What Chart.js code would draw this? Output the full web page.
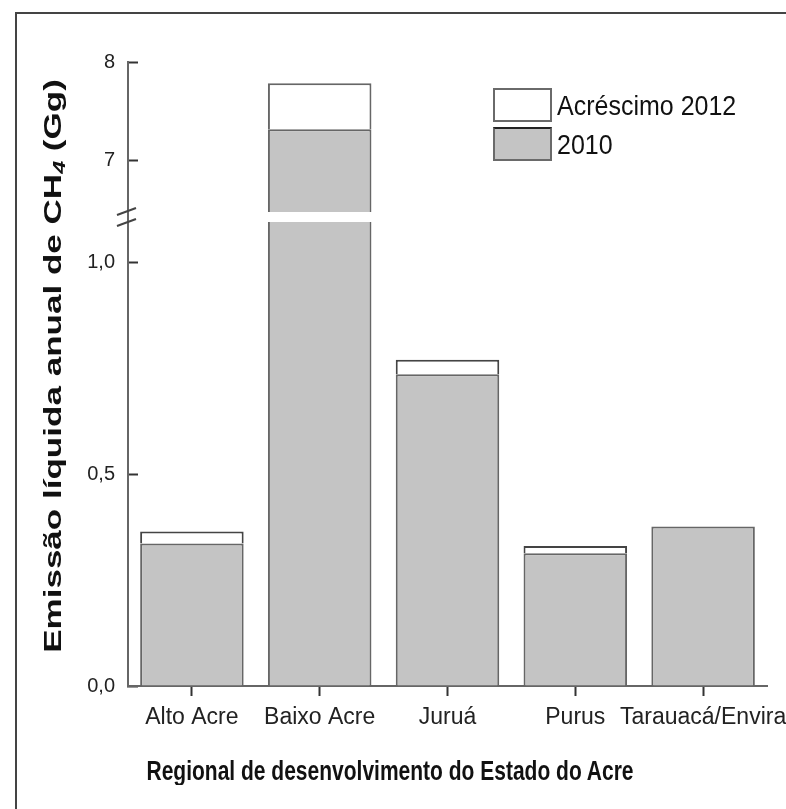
<!DOCTYPE html>
<html>
<head>
<meta charset="utf-8">
<script src="https://cdn.jsdelivr.net/npm/chart.js@4.4.1/dist/chart.umd.min.js"></script>
<style>
  html, body { margin: 0; padding: 0; background: #fff; overflow: hidden; width: 786px; height: 809px; }
  #frame { position: absolute; left: 15px; top: 12px; width: 820px; height: 840px;
           border-left: 2px solid #444; border-top: 2px solid #444; }
  #c { position: absolute; left: 0; top: 0; }
  #ytitle { position: absolute; left: -248px; top: 353px; width: 600px; height: 26px; line-height: 26px;
            text-align: center; font: bold 24px "Liberation Sans", Arial, sans-serif; color: #111;
            transform: rotate(-90deg) scaleX(1.46); transform-origin: 50% 50%; white-space: nowrap; }
  #ytitle sub { font-size: 16px; font-style: italic; vertical-align: -4px; }
  #xtitle { position: absolute; left: 90px; top: 759px; width: 600px; height: 26px; line-height: 26px;
            text-align: center; font: bold 21px "Liberation Sans", Arial, sans-serif; color: #111;
            transform: scaleY(1.3); transform-origin: 50% 50%; white-space: nowrap; }
  .lg-box { position: absolute; left: 493px; width: 55px; height: 30px; border: 2px solid #6a6a6a; }
  .lg-text { position: absolute; left: 557px; font: 25px "Liberation Sans", Arial, sans-serif; color: #111;
             line-height: 30px; white-space: nowrap; transform: scaleY(1.1); transform-origin: 0 50%; }
</style>
</head>
<body>
<div id="frame"></div>
<canvas id="c" width="786" height="809"></canvas>
<div id="ytitle">Emissão líquida anual de CH<sub>4</sub> (Gg)</div>
<div id="xtitle"></div>
<div id="legend"></div>
<script>
// ---- Data ----
const categories = ['Alto Acre', 'Baixo Acre', 'Juruá', 'Purus', 'Tarauacá/Envira'];
const emissions2010 = [0.337, 7.32, 0.737, 0.314, 0.377];
const increase2012 = [0.028, 0.465, 0.034, 0.017, 0.0];
const seriesNames = ['Acréscimo 2012', '2010'];
const lowTicks = [0, 0.5, 1.0];
const lowTickLabels = ['0,0', '0,5', '1,0'];
const highTicks = [7, 8];
const highTickLabels = ['7', '8'];
const lowRange = [0, 1.1087];
const highRange = [6.434, 8];
const xTitle = 'Regional de desenvolvimento do Estado do Acre';

// ---- Styles ----
const FILL_2010 = '#c4c4c4';
const FILL_INC = '#ffffff';
const BORDER = '#666666';
const FONT = '"Liberation Sans", Arial, sans-serif';

document.getElementById('xtitle').textContent = xTitle;

// upper segment only shows bars that reach into it
const reachesHigh = categories.map((_, i) => emissions2010[i] + increase2012[i] > highRange[0]);
const high2010 = emissions2010.map((v, i) => reachesHigh[i] ? v : null);
const highInc = increase2012.map((v, i) => reachesHigh[i] ? v : null);

// legend (HTML)
const legend = document.getElementById('legend');
const legendFills = [FILL_INC, FILL_2010];
seriesNames.forEach((name, i) => {
  const top = 88 + i * 39;
  const b = document.createElement('div');
  b.className = 'lg-box';
  b.style.top = top + 'px';
  b.style.background = legendFills[i];
  if (i === 1) b.style.borderTopColor = '#222';
  legend.appendChild(b);
  const t = document.createElement('div');
  t.className = 'lg-text';
  t.style.top = (top + 2) + 'px';
  t.textContent = name;
  legend.appendChild(t);
});

const barCommon = { borderColor: BORDER, borderWidth: 2, barPercentage: 0.81, categoryPercentage: 1.0 };

// clip each dataset to its own axis segment, leaving a small gap at the break
const segmentClip = {
  id: 'segmentClip',
  beforeDatasetDraw(chart, args) {
    const meta = args.meta;
    const s = chart.scales[meta.yAxisID];
    const ca = chart.chartArea;
    const gap = 5;
    let top = s.top, bottom = s.bottom;
    if (meta.yAxisID === 'yHigh') bottom -= gap; else top += gap;
    const ctx = chart.ctx;
    ctx.save();
    ctx.beginPath();
    ctx.rect(ca.left, top, ca.right - ca.left, bottom - top);
    ctx.clip();
  },
  afterDatasetDraw(chart) { chart.ctx.restore(); }
};

// break marks on the y axis
const breakMarks = {
  id: 'breakMarks',
  afterDraw(chart) {
    const ctx = chart.ctx;
    const x = chart.chartArea.left;
    const y = chart.scales.yLow.top;
    ctx.save();
    ctx.strokeStyle = '#444';
    ctx.lineWidth = 2;
    [-5.5, 5.5].forEach(dy => {
      ctx.beginPath();
      ctx.moveTo(x - 11, y + dy + 3.5);
      ctx.lineTo(x + 8, y + dy - 3.5);
      ctx.stroke();
    });
    ctx.restore();
  }
};

function yAxis(range, ticks, labels, weight, stackWeight) {
  return {
    type: 'linear', position: 'left', stack: 'y', stackWeight: stackWeight, weight: weight,
    stacked: true, min: range[0], max: range[1],
    afterBuildTicks: (s) => { s.ticks = ticks.map(v => ({ value: v })); },
    afterFit: (s) => { s.width = 128; },
    ticks: {
      font: { family: FONT, size: 20 }, color: '#222', padding: 23,
      callback: (v) => { const k = ticks.indexOf(v); return k >= 0 ? labels[k] : ''; }
    },
    grid: { drawOnChartArea: false, drawTicks: true, tickLength: -10, tickColor: '#333', tickWidth: 2 },
    border: { display: true, color: BORDER, width: 2 }
  };
}

new Chart(document.getElementById('c'), {
  type: 'bar',
  data: {
    labels: categories,
    datasets: [
      { label: seriesNames[1], data: emissions2010, backgroundColor: FILL_2010, yAxisID: 'yLow', ...barCommon },
      { label: seriesNames[0], data: increase2012, backgroundColor: FILL_INC, yAxisID: 'yLow', ...barCommon, borderColor: '#444' },
      { label: seriesNames[1], data: high2010, backgroundColor: FILL_2010, yAxisID: 'yHigh', ...barCommon },
      { label: seriesNames[0], data: highInc, backgroundColor: FILL_INC, yAxisID: 'yHigh', ...barCommon }
    ]
  },
  options: {
    responsive: false,
    animation: false,
    layout: { padding: { left: 0, right: 19, top: 62, bottom: 78 } },
    plugins: {
      legend: { display: false },
      tooltip: { enabled: false },
      title: { display: false }
    },
    scales: {
      x: {
        stacked: true,
        afterFit: (s) => { s.height = 45; s.paddingLeft = 0; s.paddingRight = 0; },
        ticks: { font: { family: FONT, size: 23 }, color: '#222', padding: 8, maxRotation: 0, minRotation: 0, autoSkip: false },
        grid: { drawOnChartArea: false, offset: false, tickLength: 10, tickColor: '#333', tickWidth: 2 },
        border: { display: true, color: BORDER, width: 2 }
      },
      yLow: yAxis(lowRange, lowTicks, lowTickLabels, 0, 469),
      yHigh: yAxis(highRange, highTicks, highTickLabels, 1, 155)
    }
  },
  plugins: [segmentClip, breakMarks]
});
</script>
</body>
</html>
